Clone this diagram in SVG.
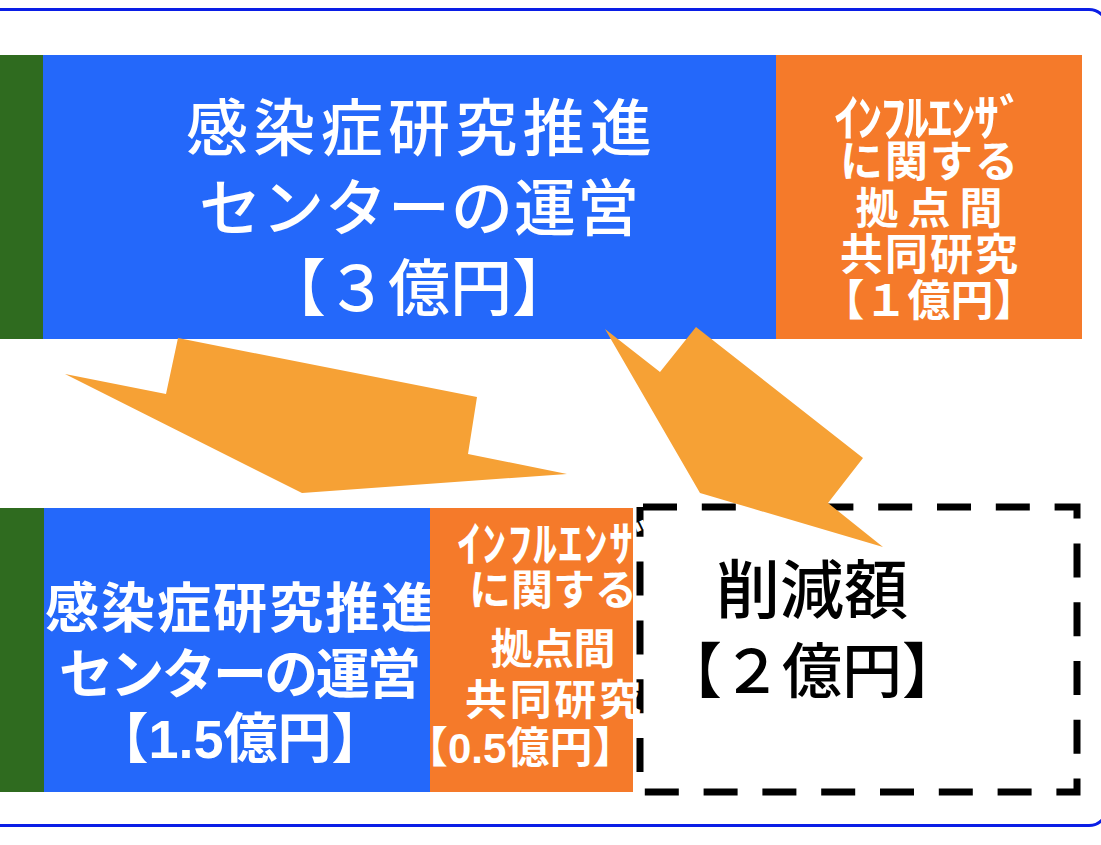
<svg xmlns="http://www.w3.org/2000/svg" width="1101" height="845" viewBox="0 0 1101 845">
<style>
.g{fill:#2f6b1f}
.b{fill:#2468fa}
.o{fill:#f57a2a}
.w{fill:#fff;font-family:"Noto Sans CJK JP","Noto Sans CJK SC",sans-serif;text-anchor:middle}
.med{font-weight:500}
.bold{font-weight:bold}
.k{fill:#000;font-family:"Noto Sans CJK JP","Noto Sans CJK SC",sans-serif;text-anchor:middle;font-weight:500}
.ar{fill:#f6a135}
.num{font-family:"Liberation Sans",Arial,sans-serif;font-weight:bold}
</style>
<rect width="1101" height="845" fill="#fff"/>
<rect id="frame" x="-20" y="9.5" width="1127" height="816" rx="18" fill="none" stroke="#0a1ee6" stroke-width="3"/>

<g id="top-green"><rect class="g" x="0" y="55" width="43" height="284"/></g>
<g id="top-center">
<rect class="b" x="43" y="55" width="733" height="284"/>
<text class="w med" font-size="62" x="419" y="151" textLength="466" lengthAdjust="spacing">感染症研究推進</text>
<text class="w med" font-size="62" x="419" y="231" textLength="440" lengthAdjust="spacing">センターの運営</text>
<text class="w med" font-size="62" x="419" y="311">【３億円】</text>
</g>
<g id="top-flu">
<rect class="o" x="776" y="55" width="306" height="284"/>
<text class="w bold" font-size="50" x="929" y="136" textLength="190" lengthAdjust="spacing">ｲﾝﾌﾙｴﾝｻﾞ</text>
<text class="w bold" font-size="43" x="929" y="177" textLength="178" lengthAdjust="spacing">に関する</text>
<text class="w bold" font-size="43" x="929" y="224" textLength="147" lengthAdjust="spacing">拠点間</text>
<text class="w bold" font-size="43" x="929" y="270" textLength="178" lengthAdjust="spacing">共同研究</text>
<text class="w bold" font-size="43" x="929" y="316">【１億円】</text>
</g>

<g id="bottom-green"><rect class="g" x="0" y="508" width="44" height="284"/></g>
<g id="bottom-center">
<rect class="b" x="44" y="508" width="386" height="284"/>
<text class="w bold" font-size="54" x="240" y="628" textLength="390" lengthAdjust="spacing">感染症研究推進</text>
<text class="w bold" font-size="54" x="240" y="694" textLength="362" lengthAdjust="spacing">センターの運営</text>
<text class="w bold" font-size="54" x="240" y="758">【<tspan class="num">1.5</tspan>億円】</text>
</g>

<g id="reduction">
<rect x="640" y="507" width="437" height="285" fill="#fff" stroke="#000" stroke-width="7" stroke-dasharray="34 24.8" stroke-dashoffset="-3"/>
<text class="k" font-size="64" x="812" y="613">削減額</text>
<text class="k" font-size="60" x="812" y="693">【２億円】</text>
</g>

<g id="bottom-flu">
<rect class="o" x="430" y="508" width="203" height="284"/>
<text class="w bold" font-size="48" x="557" y="561" textLength="200" lengthAdjust="spacing">ｲﾝﾌﾙｴﾝｻﾞ</text>
<text class="w bold" font-size="42" x="553" y="605">に関する</text>
<text class="w bold" font-size="42" x="553" y="664" textLength="125" lengthAdjust="spacing">拠点間</text>
<text class="w bold" font-size="42" x="553" y="715" textLength="176" lengthAdjust="spacing">共同研究</text>
<text class="w bold" font-size="43" x="405" y="763" style="text-anchor:start">【<tspan class="num" font-size="42">0.5</tspan>億円】</text>
</g>

<g id="connectors">
<polygon class="ar" points="178,338 477,397 468,454 567,474 302,493 65,374 166,394"/>
<polygon class="ar" points="605,329 660,372 696,327 863,458 828,503 883,547 700,493"/>
</g>
</svg>
